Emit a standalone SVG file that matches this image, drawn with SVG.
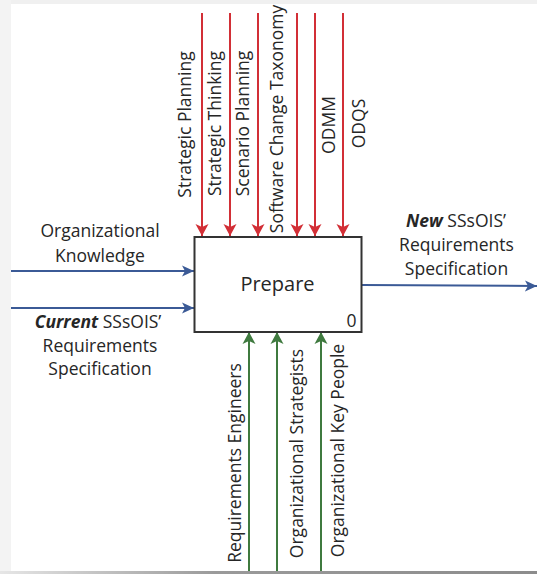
<svg xmlns="http://www.w3.org/2000/svg" width="537" height="574" viewBox="0 0 537 574">
  <style>
    .lbl { font-family: "Open Sans", "Liberation Sans", sans-serif; font-size: 17.5px; fill: #262626; }
    .mid { text-anchor: middle; }
    .ctl { stroke: #d22f36; stroke-width: 2; fill: none; }
    .io { stroke: #3b5a96; stroke-width: 2; fill: none; }
    .mech { stroke: #3f7a3f; stroke-width: 2; fill: none; }
  </style>
  <defs>
    <marker id="headRed" markerUnits="userSpaceOnUse" markerWidth="14" markerHeight="14" refX="12" refY="7" orient="auto">
      <path d="M0,0.5 L12,7 L0,13.5 L3,7 z" fill="#d22f36"/>
    </marker>
    <marker id="headBlue" markerUnits="userSpaceOnUse" markerWidth="14" markerHeight="12" refX="12" refY="6" orient="auto">
      <path d="M0,0.5 L12,6 L0,11.5 L3,6 z" fill="#3b5a96"/>
    </marker>
    <marker id="headGreen" markerUnits="userSpaceOnUse" markerWidth="14" markerHeight="14" refX="12" refY="7" orient="auto">
      <path d="M0,0.5 L12,7 L0,13.5 L3,7 z" fill="#3f7a3f"/>
    </marker>
  </defs>

  <!-- page frame -->
  <rect x="0" y="0" width="537" height="574" fill="#ffffff"/>
  <rect x="0" y="0" width="537" height="4" fill="#f0f0f0"/>
  <rect x="0" y="0" width="11" height="574" fill="#f3f3f3"/>
  <defs>
    <linearGradient id="floor" x1="0" x2="1" y1="0" y2="0">
      <stop offset="0" stop-color="#e6e6e6"/>
      <stop offset="0.4" stop-color="#9a9a9a"/>
      <stop offset="1" stop-color="#8c8c8c"/>
    </linearGradient>
  </defs>
  <rect x="0" y="571" width="537" height="3" fill="url(#floor)"/>

  <!-- connectors -->
  <g id="connectors">
    <line class="ctl" x1="202" y1="13" x2="202" y2="236" marker-end="url(#headRed)"/>
    <line class="ctl" x1="230" y1="13" x2="230" y2="236" marker-end="url(#headRed)"/>
    <line class="ctl" x1="258" y1="13" x2="258" y2="236" marker-end="url(#headRed)"/>
    <line class="ctl" x1="297" y1="13" x2="297" y2="236" marker-end="url(#headRed)"/>
    <line class="ctl" x1="315" y1="13" x2="315" y2="236" marker-end="url(#headRed)"/>
    <line class="ctl" x1="343" y1="13" x2="343" y2="236" marker-end="url(#headRed)"/>

    <line class="io" x1="11" y1="271" x2="194" y2="271" marker-end="url(#headBlue)"/>
    <line class="io" x1="11" y1="308" x2="194" y2="308" marker-end="url(#headBlue)"/>
    <line class="io" x1="362" y1="285" x2="537" y2="286" marker-end="url(#headBlue)"/>

    <line class="mech" x1="249" y1="571" x2="249" y2="332" marker-end="url(#headGreen)"/>
    <line class="mech" x1="277" y1="571" x2="277" y2="332" marker-end="url(#headGreen)"/>
    <line class="mech" x1="321" y1="571" x2="321" y2="332" marker-end="url(#headGreen)"/>
  </g>

  <!-- activity box -->
  <g id="prepare">
    <rect x="194.5" y="237" width="167" height="95" fill="#ffffff" stroke="#333333" stroke-width="2"/>
    <text class="lbl mid" x="277.5" y="291" style="font-size:20px">Prepare</text>
    <text class="lbl mid" x="351.5" y="327">0</text>
  </g>

  <!-- control labels -->
  <g id="controls">
    <text class="lbl mid" transform="translate(191,124.5) rotate(-90)">Strategic Planning</text>
    <text class="lbl mid" transform="translate(221,123.5) rotate(-90)">Strategic Thinking</text>
    <text class="lbl mid" transform="translate(249,123.5) rotate(-90)">Scenario Planning</text>
    <text class="lbl mid" transform="translate(283,119) rotate(-90)">Software Change Taxonomy</text>
    <text class="lbl mid" transform="translate(335,125) rotate(-90)">ODMM</text>
    <text class="lbl mid" transform="translate(365,123.5) rotate(-90)">ODQS</text>
  </g>

  <!-- input labels -->
  <g id="inputs">
    <text class="lbl mid" x="100" y="237">Organizational</text>
    <text class="lbl mid" x="100" y="262">Knowledge</text>
    <text class="lbl mid" x="98" y="328"><tspan font-weight="bold" font-style="italic">Current</tspan> SSsOIS’</text>
    <text class="lbl mid" x="100" y="352">Requirements</text>
    <text class="lbl mid" x="100" y="375">Specification</text>
  </g>

  <!-- output labels -->
  <g id="outputs">
    <text class="lbl mid" x="456" y="227"><tspan font-weight="bold" font-style="italic">New</tspan> SSsOIS’</text>
    <text class="lbl mid" x="456.5" y="251">Requirements</text>
    <text class="lbl mid" x="456.5" y="275">Specification</text>
  </g>

  <!-- mechanism labels -->
  <g id="mechanisms">
    <text class="lbl mid" transform="translate(241,463) rotate(-90)">Requirements Engineers</text>
    <text class="lbl mid" transform="translate(303,453.5) rotate(-90)">Organizational Strategists</text>
    <text class="lbl mid" transform="translate(344,450.5) rotate(-90)">Organizational Key People</text>
  </g>
</svg>
